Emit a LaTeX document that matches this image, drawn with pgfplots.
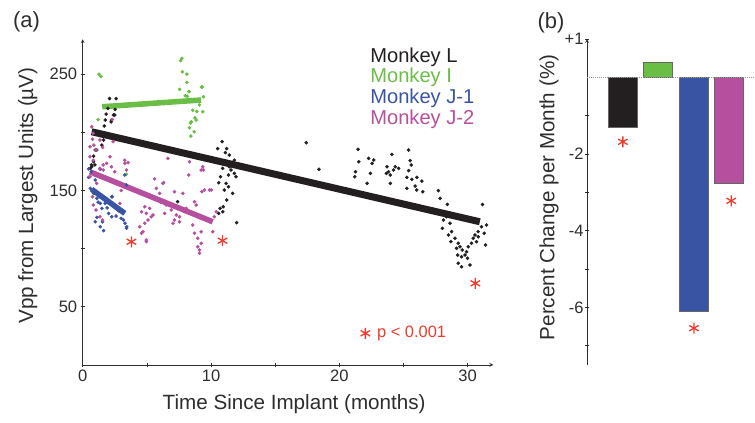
\documentclass[border=0pt]{standalone}
\usepackage{pgfplots}
\pgfplotsset{compat=1.18}
\usepackage{fontspec}
\setmainfont{Liberation Sans}
\definecolor{cL}{RGB}{35,31,32}
\definecolor{cI}{RGB}{106,189,69}
\definecolor{cJa}{RGB}{58,84,164}
\definecolor{cJb}{RGB}{182,80,158}
\definecolor{cR}{RGB}{238,60,45}
\definecolor{txt}{RGB}{45,45,45}
\pgfplotsset{
  common/.style={
    scale only axis, clip=false,
    axis line style={-, txt, line width=0.7bp},
    tick style={txt, line width=0.7bp},
    tick align=inside,
    major tick length=4bp, minor tick length=4bp,
    /pgf/number format/assume math mode=true,
    tick label style={font=\fontsize{16.6}{18}\selectfont, text=txt},
    label style={font=\fontsize{20.7}{23}\selectfont, text=txt},
  }
}
\begin{document}
\begin{tikzpicture}[x=1bp,y=1bp]
\useasboundingbox (0,0) rectangle (755,422);
\node[font=\fontsize{22}{24}\selectfont, text=txt] at (26.5,400) {(a)};
\node[font=\fontsize{22}{24}\selectfont, text=txt] at (551,399.5) {(b)};
\begin{axis}[common,
  at={(82.7bp,57.1bp)}, anchor=south west,
  width=410.6bp, height=325.6bp,
  axis lines=left,
  xmin=0, xmax=32, ymin=0, ymax=280,
  xtick={0,10,20,30}, minor xtick={5,15,25},
  ytick={50,150,250}, minor ytick={100,200},
  xlabel={Time Since Implant (months)},
  ylabel={Vpp from Largest Units (µV)},
  xlabel style={at={(axis description cs:0.515,-0.1355)}, anchor=base},
  ylabel style={at={(axis description cs:-0.134,0.52)}, anchor=center},
]
% Monkey L dots
\addplot[only marks, mark=*, mark size=1.6bp, cL] coordinates {
(2.09,229)(2.61,229)(2.53,219.7)(1.96,220.6)(1.83,215.7)(2.4,214.9)(1.75,210.6)(2.22,209)(1.68,205.4)(1.63,193.4)(1.5,189)(0.98,184.8)(0.85,174.7)(0.67,172)(0.59,169)(0.85,179.6)(1.6,197.7)(1.09,184.8)(0.7,170.4)(0.95,172)(2.25,210.6)(2.5,214.9)
(10.86,192)(10.52,186)(11.22,186)(11.12,182.5)(11.43,180.5)(10.65,176)(11.82,176)(10.91,169)(11.56,167.6)(11.82,164.7)(11.37,163.3)(10.73,161.8)(11.95,161.8)(10.6,156.7)(11.17,156.1)(11.37,153.2)(11.04,150.4)(11.68,147.5)(11.22,141.8)(10.71,134.6)(10.91,131.7)(10.6,130.3)(12.0,122.3)(7.39,140.4)(11.43,170.4)(10.96,136)
(17.42,191)(18.41,168.2)
(21.46,185.4)(21.26,166.1)(21.51,174.7)(21.2,161.8)(22.16,156.1)(22.29,177.6)(22.68,176.2)(22.55,173.3)(22.42,164.7)(24.1,181)(23.71,170.4)(23.84,166.1)(23.97,163.3)(24.36,170.4)(24.23,167.6)(24.62,169)(23.97,156.1)(23.66,164.7)(25.4,184.8)(25.52,175.6)(25.6,171.9)(25.4,167)(25.26,161.3)(25.65,159.6)(26.04,161.3)(26.43,158.1)(25.91,153.8)(26.04,150.4)(25.26,151.8)(26.5,148.9)
(27.72,149.8)(27.85,143.2)(28.42,138)(28.18,130.3)(28.36,127.4)(28.11,124.6)(28.63,121.8)(28.03,117.5)(28.75,114.6)(28.5,111.7)(29.01,108.9)(28.7,106)(29.27,104.6)(29.14,100.3)(29.4,101.6)(29.58,98.8)(29.22,94.5)(29.53,93)(29.92,97.3)(30.05,101.6)(30.3,104.6)(30.44,108.9)(30.57,111.7)(30.82,114.6)(31.08,118.8)(31.47,120.3)(31.29,113.2)(31.39,103.1)(29.27,87.4)(29.53,84.4)(30.18,85.9)(29.99,91.7)(31.16,138)(30.82,110.2)(30.69,106)(29.79,94.5)
};
% Monkey I dots
\addplot[only marks, mark=*, mark size=1.6bp, cI] coordinates {
(1.27,250)(1.42,248)(1.2,211)(3.4,164)(7.63,261.6)(7.73,263.6)(7.76,252)(8.12,250)(8.12,243)(7.55,237)(9.26,239)(7.99,231.5)(8.3,235)(9.41,230.6)(8.58,219)(8.89,218)(8.74,212.5)(8.4,208)(8.69,200.5)(8.43,196.8)(9.36,217.7)(9.1,223.6)(8.66,227)(8.15,231)(8.84,210.6)(8.46,209)(8.32,204)(9.31,239)(8.27,235)
};
% Monkey J-1 dots
\addplot[only marks, mark=*, mark size=1.6bp, cJa] coordinates {
(0.46,168.5)(0.67,166.1)(1.37,168.2)(0.46,161.3)(0.98,159)(0.59,151.8)(0.85,147.5)(1.11,143.2)(1.37,138.9)(2.27,144.6)(1.75,138.9)(1.5,134.6)(1.11,126.9)(1.55,123.1)(1.63,115.4)(2.02,130.3)(2.27,127.4)(2.53,135.5)(2.79,132.6)(3.18,124.6)(3.3,121.8)(3.44,118.8)(0.98,123.1)(1.37,118.8)(3.28,163.3)(3.41,154.7)(2.3,144.6)(3.41,117.5)(0.72,150)(1.2,140)(1.9,135)(2.6,128)(3.0,126)
};
% Monkey J-2 dots
\addplot[only marks, mark=*, mark size=1.6bp, cJb] coordinates {
(2.3,211)(0.76,194)(0.87,189)(1.03,184.8)(1.55,187)(0.57,179)(0.82,176)(2.12,179)(1.6,172)(2.25,170.4)(3.28,176)(3.54,173.9)(6.64,177.6)(9.36,170.4)(9.41,167.6)(8.27,163.3)(6.25,156.1)(7.16,148.9)(7.8,147.5)(8.71,140.3)(8.84,137.5)(9.49,150.4)(10.01,150.4)(10.4,131.7)(10.26,127.4)(10.13,114.5)(5.74,151.8)(6.0,147.5)(4.83,136)(5.22,134.6)(4.58,131.7)(4.96,130.3)(5.35,127.4)(5.09,124.6)(4.83,121.8)(4.44,118.8)(4.7,114.5)(4.96,107.4)(6.52,137.5)(6.38,130.3)(6.9,133.2)(7.29,128.9)(7.16,124.6)(7.55,127.4)(7.55,123.1)(8.07,134.6)(8.58,120.3)(8.71,113.2)(8.97,108.9)(8.97,101.6)(9.1,98.8)(9.23,104.6)(2.89,138.9)(0.82,137.5)(1.03,133.2)(1.34,127.4)(1.55,124.6)(0.76,144.6)(0.95,163.3)(1.09,156.1)(1.34,169)(1.6,167.6)(0.57,187.6)(1.34,193.4)(2.37,192)(3.28,173.3)(3.41,167.6)(0.82,199.1)(0.7,204.8)(2.5,166.1)(1.86,173.3)(0.57,161.8)(8.32,174.7)(9.23,167.6)(6.31,156.7)(9.28,149)(9.88,150.4)(4.58,113.2)(4.96,106)(7.03,121.8)(5.48,128.9)(9.1,96)(9.23,114.5)(5.6,160)(6.1,140)(3.0,150)
};
% fit lines
\addplot[cL, line width=7bp] coordinates {(0.7,200.5) (30.95,123.1)};
\addplot[cI, line width=5.5bp] coordinates {(1.52,222) (9.23,227.8)};
\addplot[cJa, line width=5.5bp] coordinates {(0.7,151) (3.28,130.3)};
\addplot[cJb, line width=5.5bp] coordinates {(0.57,166) (10.13,123.1)};
% significance stars
\addplot[only marks, mark=asterisk, mark size=5.5bp, cR, line width=1.3bp] coordinates {(3.8,105.9) (10.9,106.8) (30.6,70.2) (22.03,27.2)};
\node[anchor=west, font=\fontsize{16.5}{18}\selectfont, text=cR, inner sep=0pt] at (axis cs:22.93,27.1) {p < 0.001};
% legend text
\node[anchor=base west, inner sep=0pt, font=\fontsize{20.2}{22}\selectfont, text=cL] at (axis cs:22.4,259.8) {Monkey L};
\node[anchor=base west, inner sep=0pt, font=\fontsize{20.2}{22}\selectfont, text=cI] at (axis cs:22.4,242.6) {Monkey I};
\node[anchor=base west, inner sep=0pt, font=\fontsize{20.2}{22}\selectfont, text=cJa] at (axis cs:22.4,224.9) {Monkey J-1};
\node[anchor=base west, inner sep=0pt, font=\fontsize{20.2}{22}\selectfont, text=cJb] at (axis cs:22.4,207.1) {Monkey J-2};
\end{axis}

\begin{axis}[common,
  at={(587bp,57bp)}, anchor=south west,
  width=168bp, height=326bp,
  axis x line=none, axis y line=left,
  xmin=0, xmax=4.73, ymin=-7.5, ymax=1,
  ytick={-6,-4,-2,1}, yticklabels={-6,-4,-2,+1},
  minor ytick={-7,-5,-3,-1},
  ylabel={Percent Change per Month (\%)},
  ylabel style={at={(axis description cs:-0.226,0.514)}, anchor=center},
  yticklabel style={xshift=2bp},
]
\addplot[ybar, bar width=0.82, bar shift=0pt, fill=cL, draw=gray!80!black, line width=0.6bp] coordinates {(1,-1.29)};
\addplot[ybar, bar width=0.82, bar shift=0pt, fill=cI, draw=gray!80!black, line width=0.6bp] coordinates {(2,0.38)};
\addplot[ybar, bar width=0.82, bar shift=0pt, fill=cJa, draw=gray!80!black, line width=0.6bp] coordinates {(3,-6.09)};
\addplot[ybar, bar width=0.82, bar shift=0pt, fill=cJb, draw=gray!80!black, line width=0.6bp] coordinates {(4,-2.77)};
\addplot[gray!80, densely dotted, line width=1bp] coordinates {(0,0) (4.73,0)};
\addplot[only marks, mark=asterisk, mark size=5.5bp, cR, line width=1.3bp] coordinates {(1.01,-1.68) (3.01,-6.54) (4.06,-3.22)};
\end{axis}
\end{tikzpicture}
\end{document}
